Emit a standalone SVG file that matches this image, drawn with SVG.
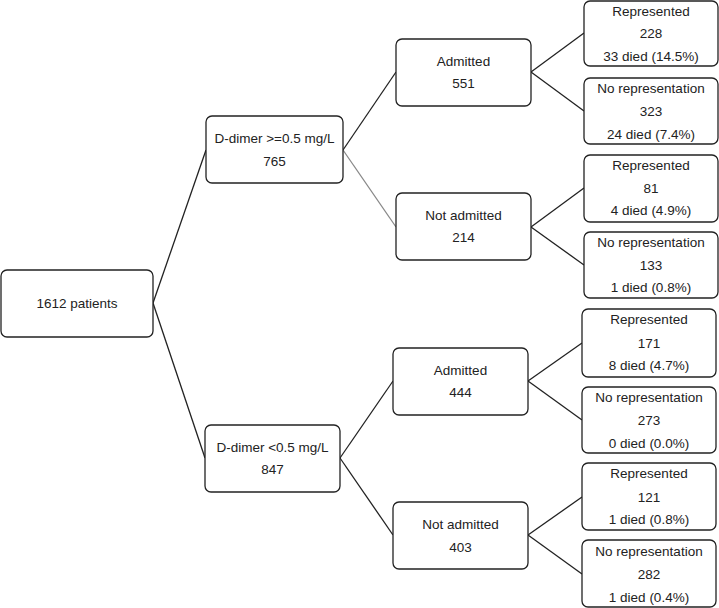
<svg xmlns="http://www.w3.org/2000/svg" width="719" height="608" viewBox="0 0 719 608">
<style>
.box{fill:#fff;stroke:#222;stroke-width:1.3}
.t{font-family:"Liberation Sans",Arial,sans-serif;font-size:13.5px;fill:#222;text-anchor:middle;dominant-baseline:central}
.c{stroke:#222;stroke-width:1.3;fill:none}
.g{stroke:#888;stroke-width:1.3;fill:none}
</style>
<rect width="719" height="608" fill="#fff"/>
<g id="connectors">
<line class="c" x1="153" y1="303" x2="206" y2="150"/>
<line class="c" x1="153" y1="303" x2="205" y2="458"/>
<line class="c" x1="343" y1="150" x2="396" y2="72"/>
<line class="g" x1="343" y1="150" x2="396" y2="227"/>
<line class="c" x1="531" y1="72" x2="584" y2="33"/>
<line class="c" x1="531" y1="72" x2="584" y2="111"/>
<line class="c" x1="531" y1="227" x2="584" y2="188"/>
<line class="c" x1="531" y1="227" x2="584" y2="265"/>
<line class="c" x1="340" y1="458" x2="393" y2="381"/>
<line class="c" x1="340" y1="458" x2="393" y2="535"/>
<line class="c" x1="528" y1="381" x2="582" y2="343"/>
<line class="c" x1="528" y1="381" x2="582" y2="420"/>
<line class="c" x1="528" y1="535" x2="582" y2="497"/>
<line class="c" x1="528" y1="535" x2="582" y2="574"/>
</g>
<g id="root"><rect class="box" x="1" y="270" width="152" height="67" rx="6"/><text class="t" x="77" y="303">1612 patients</text></g>
<g id="dhigh"><rect class="box" x="206" y="116" width="137" height="67" rx="6"/><text class="t" x="274.5" y="138">D-dimer &gt;=0.5 mg/L</text><text class="t" x="274.5" y="161">765</text></g>
<g id="dlow"><rect class="box" x="205" y="425" width="135" height="67" rx="6"/><text class="t" x="272.5" y="447">D-dimer &lt;0.5 mg/L</text><text class="t" x="272.5" y="469">847</text></g>
<g id="adm1"><rect class="box" x="396" y="39" width="135" height="67" rx="6"/><text class="t" x="463.5" y="61">Admitted</text><text class="t" x="463.5" y="83">551</text></g>
<g id="nadm1"><rect class="box" x="396" y="193" width="135" height="67" rx="6"/><text class="t" x="463.5" y="215">Not admitted</text><text class="t" x="463.5" y="237">214</text></g>
<g id="adm2"><rect class="box" x="393" y="348" width="135" height="67" rx="6"/><text class="t" x="460.5" y="370">Admitted</text><text class="t" x="460.5" y="392">444</text></g>
<g id="nadm2"><rect class="box" x="393" y="502" width="135" height="67" rx="6"/><text class="t" x="460.5" y="524">Not admitted</text><text class="t" x="460.5" y="547">403</text></g>
<g id="l1"><rect class="box" x="584" y="1" width="134" height="65" rx="6"/><text class="t" x="651" y="11">Represented</text><text class="t" x="651" y="33">228</text><text class="t" x="651" y="56">33 died (14.5%)</text></g>
<g id="l2"><rect class="box" x="584" y="78" width="134" height="66" rx="6"/><text class="t" x="651" y="88">No representation</text><text class="t" x="651" y="111">323</text><text class="t" x="651" y="134">24 died (7.4%)</text></g>
<g id="l3"><rect class="box" x="584" y="155" width="134" height="67" rx="6"/><text class="t" x="651" y="165">Represented</text><text class="t" x="651" y="188">81</text><text class="t" x="651" y="210">4 died (4.9%)</text></g>
<g id="l4"><rect class="box" x="584" y="232" width="134" height="66" rx="6"/><text class="t" x="651" y="242">No representation</text><text class="t" x="651" y="265">133</text><text class="t" x="651" y="287">1 died (0.8%)</text></g>
<g id="l5"><rect class="box" x="582" y="309" width="134" height="68" rx="6"/><text class="t" x="649" y="319">Represented</text><text class="t" x="649" y="343">171</text><text class="t" x="649" y="365">8 died (4.7%)</text></g>
<g id="l6"><rect class="box" x="582" y="387" width="134" height="66" rx="6"/><text class="t" x="649" y="397">No representation</text><text class="t" x="649" y="420">273</text><text class="t" x="649" y="443">0 died (0.0%)</text></g>
<g id="l7"><rect class="box" x="582" y="463" width="134" height="67" rx="6"/><text class="t" x="649" y="473">Represented</text><text class="t" x="649" y="497">121</text><text class="t" x="649" y="519">1 died (0.8%)</text></g>
<g id="l8"><rect class="box" x="582" y="540" width="134" height="67" rx="6"/><text class="t" x="649" y="551">No representation</text><text class="t" x="649" y="574">282</text><text class="t" x="649" y="597">1 died (0.4%)</text></g>
</svg>
